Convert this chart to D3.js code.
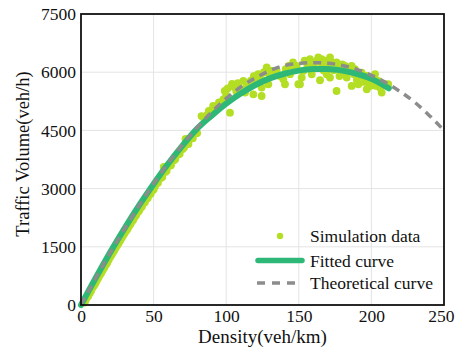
<!DOCTYPE html>
<html>
<head>
<meta charset="utf-8">
<script src="https://cdn.jsdelivr.net/npm/d3@7"></script>
<style>
  html, body { margin: 0; padding: 0; background: #fff; }
  svg { display: block; }
  text { font-family: "Liberation Serif", "Times New Roman", serif; fill: #111; }
</style>
</head>
<body>
<svg id="chart" width="455" height="351"></svg>
<script>
// Axis ticks
const xTicks = [0, 50, 100, 150, 200, 250];
const yTicks = [0, 1500, 3000, 4500, 6000, 7500];

// Theoretical flow-density curve (density veh/km, volume veh/h)
const theoK = [0, 10, 20, 30, 40, 50, 60, 70, 80, 90, 100, 110, 120, 130, 140, 150, 160, 170, 180, 190, 200, 210, 220, 230, 240, 250];
const theoQ = [0, 685, 1340, 1965, 2560, 3125, 3653, 4137, 4577, 4973, 5325, 5620, 5850, 6040, 6170, 6225, 6245, 6230, 6175, 6075, 5920, 5730, 5495, 5220, 4880, 4500];

// Fitted curve
const fitK = [0, 10, 20, 30, 40, 50, 60, 70, 80, 90, 100, 110, 120, 130, 140, 150, 160, 170, 180, 190, 200, 210, 212];
const fitQ = [0, 690, 1350, 1975, 2565, 3120, 3640, 4115, 4545, 4880, 5190, 5450, 5670, 5840, 5960, 6040, 6080, 6080, 6040, 5960, 5830, 5630, 5585];

// Simulation samples
const simK = [2, 3, 4, 5, 6, 7, 8, 9, 10, 11, 12, 13, 14, 15, 16, 17, 18, 19, 20, 21, 22, 23, 24, 25, 26, 27, 28, 29, 30, 31, 32, 33, 34, 35, 36, 37, 38, 39, 40, 41, 42, 43, 44, 45, 46, 47, 48, 49, 50, 51, 53, 55, 56, 57, 58, 59, 61, 62, 64, 65, 67, 68, 70, 71, 72, 73, 74, 76, 77, 79, 80,
  83, 85, 87, 88, 90, 91, 93, 95, 96, 98, 99, 100, 102.6, 101, 103.8, 106, 104, 107, 108, 110, 111.8, 113, 114, 116.4, 117, 118.7, 119, 121, 122, 124.4, 124.4, 125, 126, 127.9, 129, 130, 131.3, 133, 134.8, 137, 139.3, 140.5, 141, 143, 144, 146, 147, 148.5, 149.7, 150.8, 152, 153.1, 154, 155.4, 156, 157.7, 158.9, 160, 161, 162, 163.4, 164.6, 165.7, 166, 167, 168, 169.2, 170, 171.5, 171.5, 173, 174, 176, 176, 177, 178, 179.5, 180, 181.8, 183, 184, 186.4, 186.4, 188, 188.7, 190, 191, 192, 193.3, 195, 196.8, 196.8, 198, 199, 200, 202.5, 203, 204.8, 206, 207.1, 209, 211.6];
const simQ = [60, 100, 190, 230, 300, 370, 450, 500, 560, 640, 700, 770, 830, 900, 960, 1030, 1080, 1160, 1230, 1290, 1350, 1410, 1480, 1540, 1600, 1660, 1730, 1790, 1850, 1910, 1960, 2030, 2080, 2150, 2200, 2270, 2320, 2390, 2430, 2500, 2540, 2620, 2650, 2730, 2760, 2840, 2870, 2950, 2980, 3060, 3150, 3270, 3300, 3560, 3430, 3460, 3590, 3600, 3730, 3760, 3880, 3900, 4020, 4060, 4280, 4150, 4150, 4290, 4300, 4420, 4430,
  4870, 4780, 4900, 5000, 4960, 5130, 5080, 5220, 5180, 5300, 5520, 5400, 4957, 5580, 5646, 5603, 5700, 5500, 5720, 5560, 5775, 5474, 5620, 5646, 5780, 5431, 5900, 5820, 5950, 5387, 5603, 5800, 6000, 6121, 5689, 5900, 6033, 5950, 6033, 5904, 5818, 5689, 6080, 6160, 5950, 6250, 6050, 6164, 5689, 5689, 5861, 6033, 6300, 6250, 6150, 6336, 5947, 6230, 6100, 6280, 6379, 5793, 6336, 6200, 6050, 6300, 5947, 6150, 6379, 5861, 6250, 6050, 6250, 5516, 6100, 5900, 5991, 6200, 6164, 5861, 6050, 6164, 5646, 5950, 6077, 5800, 5689, 5900, 5991, 5750, 5904, 5560, 5800, 5646, 5700, 5947, 5650, 5775, 5600, 5474, 5700, 5689];

const legendLabels = ["Simulation data", "Fitted curve", "Theoretical curve"];

const colors = { sim: "#b3de24", fit: "#2eb877", theo: "#8c8c8c", grid: "#e4e4e4" };

const svg = d3.select("#chart");
const margin = { left: 81, right: 11, top: 14, bottom: 46 };
const W = 455, H = 351;
const x = d3.scaleLinear().domain([0, 250]).range([margin.left, W - margin.right]);
const y = d3.scaleLinear().domain([0, 7500]).range([H - margin.bottom, margin.top]);

// Grid
svg.append("g")
  .selectAll("line").data(xTicks.slice(1, -1)).join("line")
  .attr("x1", d => x(d)).attr("x2", d => x(d))
  .attr("y1", y(0)).attr("y2", y(7500))
  .attr("stroke", colors.grid).attr("stroke-width", 1);
svg.append("g")
  .selectAll("line").data(yTicks.slice(1, -1)).join("line")
  .attr("x1", x(0)).attr("x2", x(250))
  .attr("y1", d => y(d)).attr("y2", d => y(d))
  .attr("stroke", colors.grid).attr("stroke-width", 1);

// Axes
const xAxis = svg.append("g").attr("transform", `translate(0,${y(0)})`)
  .call(d3.axisBottom(x).tickValues(xTicks).tickSize(0).tickPadding(5).tickFormat(d3.format("d")));
const yAxis = svg.append("g").attr("transform", `translate(${x(0)},0)`)
  .call(d3.axisLeft(y).tickValues(yTicks).tickSize(0).tickPadding(5).tickFormat(d3.format("d")));
[xAxis, yAxis].forEach(a => {
  a.select(".domain").remove();
  a.selectAll("text").style("font-family", "'Liberation Serif', serif").style("font-size", "17.5px").attr("fill", "#111");
});
// keep the last density label inside the canvas
xAxis.selectAll(".tick").filter(d => d === 250).select("text")
  .attr("text-anchor", "end").attr("dx", "10px");

// Simulation points
svg.append("g")
  .selectAll("circle").data(simK.map((k, i) => [k, simQ[i]])).join("circle")
  .attr("cx", d => x(d[0])).attr("cy", d => y(d[1])).attr("r", 3.9)
  .attr("fill", colors.sim);

const line = d3.line().x(d => x(d[0])).y(d => y(d[1])).curve(d3.curveMonotoneX);

// Fitted curve
svg.append("path")
  .datum(fitK.map((k, i) => [k, fitQ[i]]))
  .attr("d", line).attr("fill", "none")
  .attr("stroke", colors.fit).attr("stroke-width", 6).attr("stroke-linecap", "round");

// Theoretical curve
svg.append("path")
  .datum(theoK.map((k, i) => [k, theoQ[i]]))
  .attr("d", line).attr("fill", "none")
  .attr("stroke", colors.theo).attr("stroke-width", 3.5).attr("stroke-dasharray", "8,6");

// Frame
svg.append("rect")
  .attr("x", x(0)).attr("y", y(7500))
  .attr("width", x(250) - x(0)).attr("height", y(0) - y(7500))
  .attr("fill", "none").attr("stroke", "#111").attr("stroke-width", 1.8);

// Axis titles
svg.append("text")
  .attr("x", (x(0) + x(250)) / 2).attr("y", 343)
  .attr("text-anchor", "middle").style("font-size", "19px")
  .text("Density(veh/km)");
svg.append("text")
  .attr("transform", `translate(29,154) rotate(-90)`)
  .attr("text-anchor", "middle").style("font-size", "18.5px")
  .text("Traffic Volume(veh/h)");

// Legend
const lg = svg.append("g");
const rowY = [236, 260.5, 283];
lg.append("circle").attr("cx", 280).attr("cy", rowY[0]).attr("r", 3.2).attr("fill", colors.sim);
lg.append("line").attr("x1", 258).attr("x2", 302).attr("y1", rowY[1]).attr("y2", rowY[1])
  .attr("stroke", colors.fit).attr("stroke-width", 5.5).attr("stroke-linecap", "round");
lg.append("line").attr("x1", 257).attr("x2", 300).attr("y1", rowY[2]).attr("y2", rowY[2])
  .attr("stroke", colors.theo).attr("stroke-width", 3.5).attr("stroke-dasharray", "8,7");
lg.selectAll("text").data(legendLabels).join("text")
  .attr("x", 310).attr("y", (d, i) => rowY[i] + 6)
  .style("font-size", "17.5px")
  .text(d => d);
</script>
</body>
</html>
